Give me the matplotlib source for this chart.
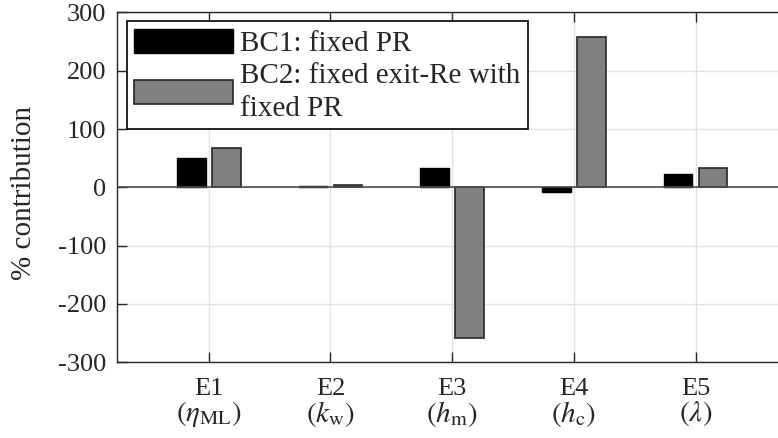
import numpy as np
import matplotlib.pyplot as plt
from matplotlib.patches import Patch

plt.rcParams['font.family'] = ['Liberation Serif', 'DejaVu Serif']
plt.rcParams['mathtext.fontset'] = 'stix'

# contribution of each error source under the two boundary conditions
sources = ["E1", "E2", "E3", "E4", "E5"]
symbols = [r"$(\eta_{\mathrm{ML}})$", r"$(k_{\mathrm{w}})$", r"$(h_{\mathrm{m}})$",
           r"$(h_{\mathrm{c}})$", r"$(\lambda)$"]
bc1 = [51, 3, 34, -8, 23]
bc2 = [67, 4, -258, 257, 34]

series_labels = ["BC1: fixed PR", "BC2: fixed exit-Re with\nfixed PR"]
yticks = [-300, -200, -100, 0, 100, 200, 300]

axis_col = "#262626"


def plot_contributions():
    fig = plt.figure(figsize=(7.78, 4.38), dpi=100)
    ax = fig.add_axes([0.151, 0.1728, 0.8604, 0.799])

    x = np.arange(1, len(sources) + 1)
    offset = 0.144
    width = 0.236
    ax.bar(x - offset, bc1, width, color="black", edgecolor="black", linewidth=1.0, zorder=3)
    ax.bar(x + offset, bc2, width, color="#808080", edgecolor=axis_col, linewidth=1.2, zorder=3)
    ax.axhline(0, color="#4d4d4d", linewidth=1.2, zorder=4)

    ax.set_xlim(0.25, 5.75)
    ax.set_ylim(-300, 300)
    ax.set_xticks(x)
    ax.set_xticklabels(sources, fontsize=19)
    # symbol line under each source name
    trans = ax.get_xaxis_transform()
    for xi, sym in zip(x, symbols):
        ax.text(xi, -0.147, sym, transform=trans, ha="center", va="center",
                fontsize=21, color=axis_col)
    ax.set_yticks(yticks)
    ax.set_yticklabels([str(v) for v in yticks], fontsize=19)
    ax.grid(True, color="#e3e3e3", linewidth=1.0, zorder=0)
    ax.set_axisbelow(True)

    ax.tick_params(direction="in", length=7, width=1.0, color=axis_col,
                   top=True, right=False, labelcolor=axis_col, pad=8)
    ax.tick_params(axis="x", pad=11)
    for side in ax.spines.values():
        side.set_color(axis_col)
        side.set_linewidth(1.0)

    ax.set_ylabel("% contribution", fontsize=21, color=axis_col)
    ax.yaxis.set_label_coords(-0.12, 0.484)

    handles = [Patch(facecolor="black", edgecolor="black"),
               Patch(facecolor="#808080", edgecolor=axis_col, linewidth=1.2)]
    leg = ax.legend(handles, series_labels, loc="upper left",
                    bbox_to_anchor=(0.0137, 0.974), borderaxespad=0,
                    fontsize=21, handlelength=3.4, handleheight=0.9,
                    handletextpad=0.25, borderpad=0.25, labelspacing=0.2,
                    fancybox=False, framealpha=1.0, edgecolor="black")
    leg.get_frame().set_linewidth(1.2)
    leg.set_zorder(5)
    for t in leg.get_texts():
        t.set_linespacing(1.35)
        t.set_color(axis_col)

    fig.savefig("out.png", dpi=100)


if __name__ == "__main__":
    plot_contributions()
